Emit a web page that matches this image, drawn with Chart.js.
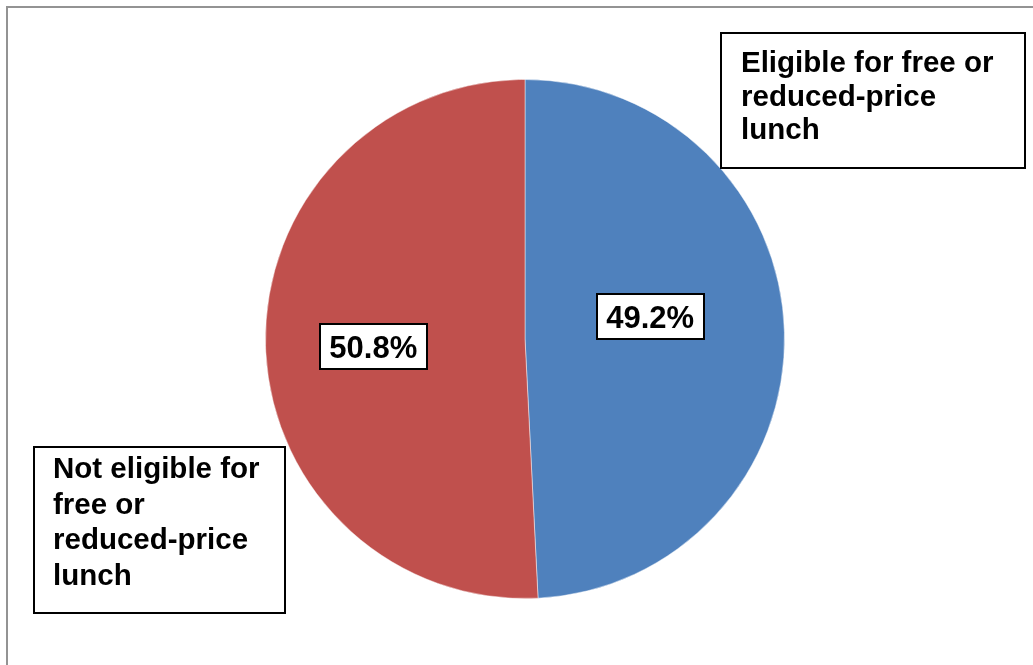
<!DOCTYPE html>
<html>
<head>
<meta charset="utf-8">
<script src="https://cdn.jsdelivr.net/npm/chart.js@4/dist/chart.umd.min.js"></script>
<style>
  html, body { margin: 0; padding: 0; background: #ffffff; }
  #wrap { position: relative; width: 1033px; height: 665px; }
</style>
</head>
<body>
<div id="wrap"><canvas id="chart" width="1033" height="665"></canvas></div>
<script>
// Share of students by lunch-program eligibility
const categories = [
  ['Eligible for free or', 'reduced-price', 'lunch'],
  ['Not eligible for', 'free or', 'reduced-price', 'lunch']
];
const shares = [49.2, 50.8];
const sliceColors = ['#4F81BD', '#C0504D'];

const FONT = "'Liberation Sans', Arial, Helvetica, sans-serif";

// Category callout boxes (fixed boxes beside the pie)
const calloutBoxes = [
  { x: 721, y: 33, w: 304, h: 135, padX: 20, firstBase: 39, lineGap: 33.5 },
  { x: 34, y: 447, w: 251, h: 166, padX: 19, firstBase: 31, lineGap: 35.5 }
];
// Offsets of the value boxes from each slice's centre point
const valueOffsets = [
  { dx: -17.5, dy: -19 },
  { dx: -9, dy: 4 }
];

function boxedText(ctx, x, y, w, h) {
  ctx.fillStyle = '#ffffff';
  ctx.fillRect(x, y, w, h);
  ctx.strokeStyle = '#000000';
  ctx.lineWidth = 2;
  ctx.strokeRect(x, y, w, h);
}

const framePlugin = {
  id: 'frame',
  beforeDraw(chart) {
    const ctx = chart.ctx;
    ctx.save();
    ctx.strokeStyle = '#939393';
    ctx.lineWidth = 2;
    ctx.beginPath();
    ctx.moveTo(7, chart.height);
    ctx.lineTo(7, 7);
    ctx.lineTo(chart.width, 7);
    ctx.stroke();
    ctx.restore();
  }
};

const labelPlugin = {
  id: 'pieLabels',
  afterDatasetsDraw(chart) {
    const ctx = chart.ctx;
    const meta = chart.getDatasetMeta(0);
    const labels = chart.data.labels;
    const values = chart.data.datasets[0].data;
    ctx.save();

    // value boxes inside the slices
    ctx.font = 'bold 31px ' + FONT;
    ctx.textBaseline = 'middle';
    ctx.textAlign = 'center';
    meta.data.forEach((arc, i) => {
      const mid = (arc.startAngle + arc.endAngle) / 2;
      const r = arc.outerRadius * 0.55;
      const cx = arc.x + Math.cos(mid) * r + valueOffsets[i].dx;
      const cy = arc.y + Math.sin(mid) * r + valueOffsets[i].dy;
      const txt = values[i].toFixed(1) + '%';
      const w = ctx.measureText(txt).width + 19;
      const h = 45;
      boxedText(ctx, Math.round(cx - w / 2), Math.round(cy - h / 2), Math.round(w), h);
      ctx.fillStyle = '#000000';
      ctx.fillText(txt, cx, cy + 3);
    });

    // category callouts
    ctx.font = 'bold 29.5px ' + FONT;
    ctx.textAlign = 'left';
    ctx.textBaseline = 'alphabetic';
    labels.forEach((lines, i) => {
      const b = calloutBoxes[i];
      boxedText(ctx, b.x, b.y, b.w, b.h);
      ctx.fillStyle = '#000000';
      lines.forEach((ln, k) => {
        ctx.fillText(ln, b.x + b.padX, b.y + b.firstBase + k * b.lineGap);
      });
    });
    ctx.restore();
  }
};

new Chart(document.getElementById('chart'), {
  type: 'pie',
  data: {
    labels: categories,
    datasets: [{
      data: shares,
      backgroundColor: sliceColors,
      borderColor: 'rgba(255,255,255,0.45)',
      borderWidth: 1
    }]
  },
  options: {
    responsive: false,
    animation: false,
    layout: { padding: { top: 79, bottom: 66, left: 265, right: 248 } },
    plugins: {
      legend: { display: false },
      tooltip: { enabled: false },
      title: { display: false }
    }
  },
  plugins: [framePlugin, labelPlugin]
});
</script>
</body>
</html>
